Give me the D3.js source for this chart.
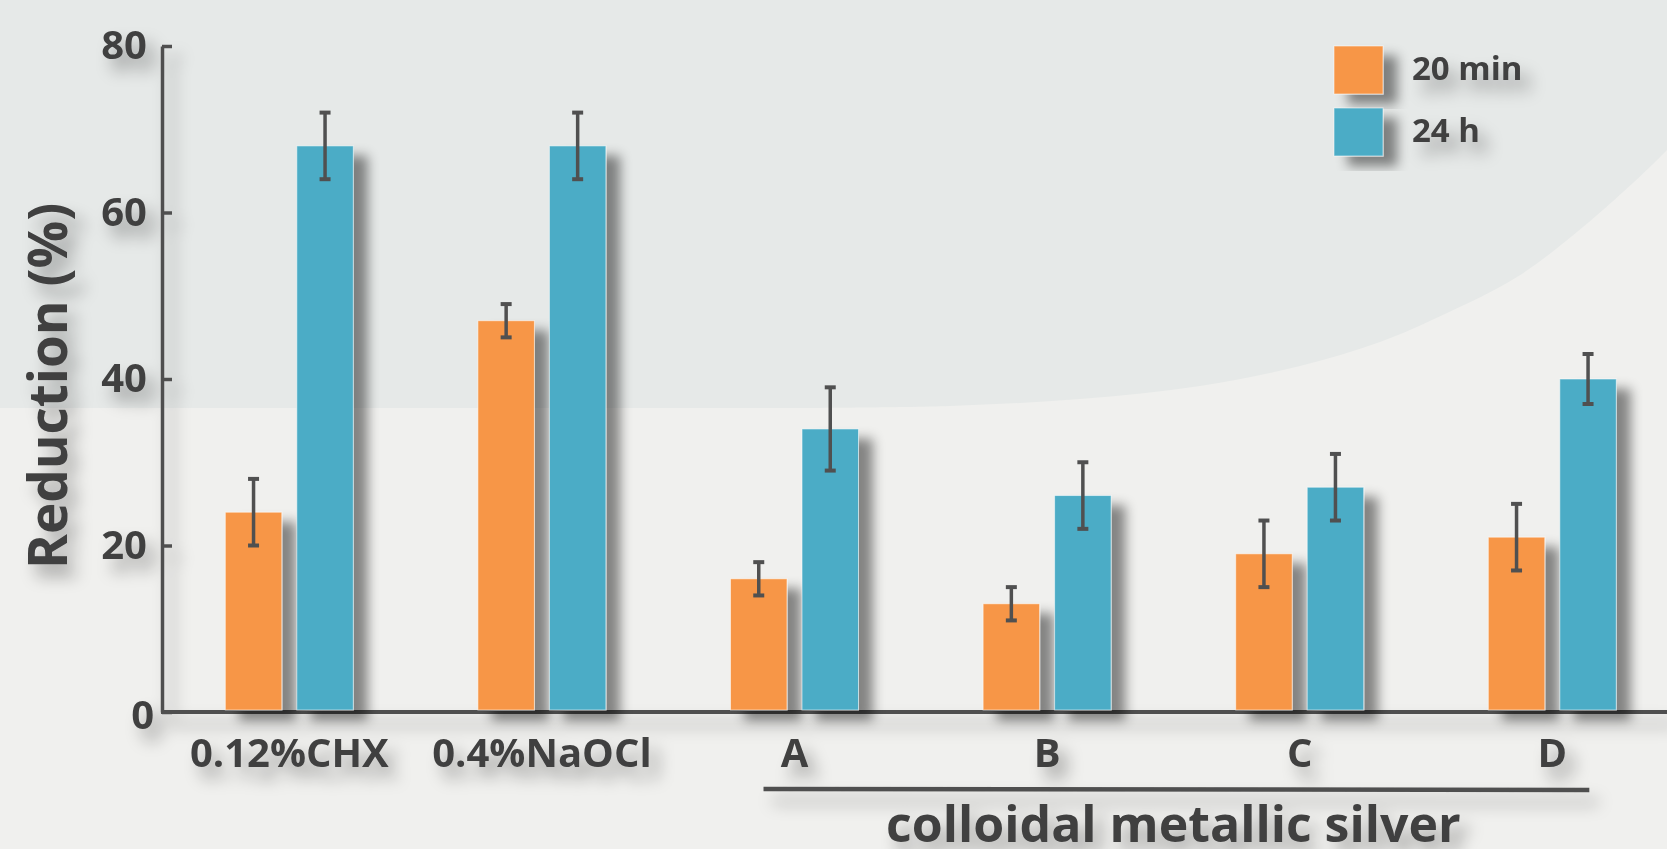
<!DOCTYPE html>
<html>
<head>
<meta charset="utf-8">
<script src="https://cdn.jsdelivr.net/npm/d3@7/dist/d3.min.js"></script>
<style>
  html, body { margin: 0; padding: 0; background: #f0f0ee; overflow: hidden; }
  svg { display: block; font-family: "Open Sans", "DejaVu Sans", sans-serif; font-weight: 700; }
</style>
</head>
<body>
<svg id="chart" width="1667" height="849"></svg>
<script>
// ---- data ----
const categories = ["0.12%CHX", "0.4%NaOCl", "A", "B", "C", "D"];
const seriesNames = ["20 min", "24 h"];
const values20min = [24, 47, 16, 13, 19, 21];
const values24h   = [68, 68, 34, 26, 27, 40];
const err20min    = [4, 2, 2, 2, 4, 4];
const err24h      = [4, 4, 5, 4, 4, 3];
const yTicks = [0, 20, 40, 60, 80];
const groupLabel = "colloidal metallic silver";
const groupMembers = ["A", "B", "C", "D"];
const yTitle = "Reduction (%)";
const colors = ["#f79646", "#4bacc6"];

const W = 1667, H = 849;
const svg = d3.select("#chart");
const ink = "#404040";
const axisInk = "#505050";

// ---- filters ----
const defs = svg.append("defs");
const fBar = defs.append("filter").attr("id", "barShadow")
  .attr("x", "-50%").attr("y", "-20%").attr("width", "220%").attr("height", "150%");
fBar.append("feDropShadow").attr("dx", 14).attr("dy", 10).attr("stdDeviation", 6)
  .attr("flood-color", "#000").attr("flood-opacity", 0.45);
const fTxt = defs.append("filter").attr("id", "txtShadow")
  .attr("x", "-50%").attr("y", "-50%").attr("width", "200%").attr("height", "200%");
fTxt.append("feDropShadow").attr("dx", 9).attr("dy", 12).attr("stdDeviation", 8)
  .attr("flood-color", "#000").attr("flood-opacity", 0.33);

// ---- background ----
svg.append("rect").attr("width", W).attr("height", H).attr("fill", "#f0f0ee");
const bgCurve = [[W,150],[1650,167],[1583,227],[1517,277],[1445,314],[1380,342],[1300,366],[1200,386],[1080,399],[950,406],[800,408]];
const curvePath = d3.line().curve(d3.curveCatmullRom)(bgCurve);
svg.append("path")
  .attr("d", "M0,0H" + W + "V150" + curvePath.replace(/^M[^CL]*/, "") + "L0,408Z")
  .attr("fill", "#e6e9e8");

// ---- scales ----
const y = d3.scaleLinear().domain([0, 80]).range([712, 46]);
const x = d3.scaleBand().domain(categories).range([163, 1678.6]).padding(0);
const xs = d3.scaleBand().domain(seriesNames).range([-64, 64]).paddingInner(0.21);

const rows = categories.map((c, i) => ({
  cat: c,
  items: [
    { s: seriesNames[0], v: values20min[i], e: err20min[i], col: colors[0] },
    { s: seriesNames[1], v: values24h[i], e: err24h[i], col: colors[1] }
  ]
}));

// ---- axes ----
const gAxes = svg.append("g").attr("filter", "url(#txtShadow)");
const yAxis = d3.axisLeft(y).tickValues(yTicks).tickSizeInner(-10).tickSizeOuter(0).tickPadding(15);
const gy = gAxes.append("g").attr("transform", "translate(162,0)").call(yAxis);
gy.select(".domain").attr("stroke", axisInk).attr("stroke-width", 3.5);
gy.selectAll(".tick line").attr("stroke", axisInk).attr("stroke-width", 3.5);
gy.selectAll(".tick text").attr("fill", ink).attr("font-size", 40).attr("font-weight", 700)
  .attr("font-family", "Open Sans");
gy.selectAll(".tick").filter(d => d === 0).select("text").attr("x", -8).attr("dy", "0.42em");

const xAxis = d3.axisBottom(x).tickSize(0).tickSizeOuter(0);
const gx = gAxes.append("g").attr("transform", "translate(0,712)").call(xAxis);
gx.select(".domain").attr("d", "M161,0H" + W).attr("stroke", axisInk).attr("stroke-width", 4);
gx.selectAll(".tick text").attr("fill", ink).attr("font-size", 40).attr("font-weight", 700)
  .attr("font-family", "Open Sans").attr("y", 55).attr("dy", 0);

// y title
gAxes.append("text")
  .attr("transform", "translate(67,386) rotate(-90)")
  .attr("text-anchor", "middle")
  .attr("font-size", 53).attr("fill", ink)
  .text(yTitle);

// group bracket
const gA = x(groupMembers[0]) + x.bandwidth() / 2;
const gD = x(groupMembers[groupMembers.length - 1]) + x.bandwidth() / 2;
gAxes.append("line")
  .attr("x1", gA - 31).attr("x2", gD + 37).attr("y1", 789).attr("y2", 790)
  .attr("stroke", axisInk).attr("stroke-width", 4.5);
gAxes.append("text")
  .attr("x", (gA + gD) / 2).attr("y", 842).attr("text-anchor", "middle")
  .attr("font-size", 50).attr("fill", ink).text(groupLabel);

// ---- bars ----
const gBars = svg.append("g");
const groups = gBars.selectAll("g.grp").data(rows).join("g")
  .attr("class", "grp")
  .attr("transform", d => `translate(${x(d.cat) + x.bandwidth() / 2},0)`);

groups.selectAll("rect").data(d => d.items).join("rect")
  .attr("x", d => xs(d.s))
  .attr("y", d => y(d.v))
  .attr("width", xs.bandwidth())
  .attr("height", d => y(0) - y(d.v) - 2)
  .attr("fill", d => d.col)
  .attr("stroke", "rgba(255,255,255,0.55)")
  .attr("stroke-width", 1)
  .attr("filter", "url(#barShadow)");

// error bars
const eb = groups.selectAll("g.err").data(d => d.items).join("g").attr("class", "err")
  .attr("transform", d => `translate(${xs(d.s) + xs.bandwidth() / 2},0)`)
  .attr("stroke", axisInk).attr("stroke-width", 3.5);
eb.append("line").attr("x1", 0).attr("x2", 0).attr("y1", d => y(d.v + d.e)).attr("y2", d => y(d.v - d.e));
eb.append("line").attr("x1", -5.5).attr("x2", 5.5).attr("y1", d => y(d.v + d.e)).attr("y2", d => y(d.v + d.e)).attr("stroke-width", 4);
eb.append("line").attr("x1", -5.5).attr("x2", 5.5).attr("y1", d => y(d.v - d.e)).attr("y2", d => y(d.v - d.e)).attr("stroke-width", 4);

// ---- legend ----
const gLeg = svg.append("g");
const leg = gLeg.selectAll("g").data(seriesNames).join("g")
  .attr("transform", (d, i) => `translate(1334,${46 + i * 62})`);
leg.append("rect").attr("width", 49).attr("height", 48)
  .attr("fill", (d, i) => colors[i])
  .attr("stroke", "rgba(255,255,255,0.55)").attr("stroke-width", 1)
  .attr("filter", "url(#barShadow)");
leg.append("text").attr("x", 78).attr("y", 34)
  .attr("font-size", 33).attr("fill", ink)
  .attr("filter", "url(#txtShadow)")
  .text(d => d);
</script>
</body>
</html>
